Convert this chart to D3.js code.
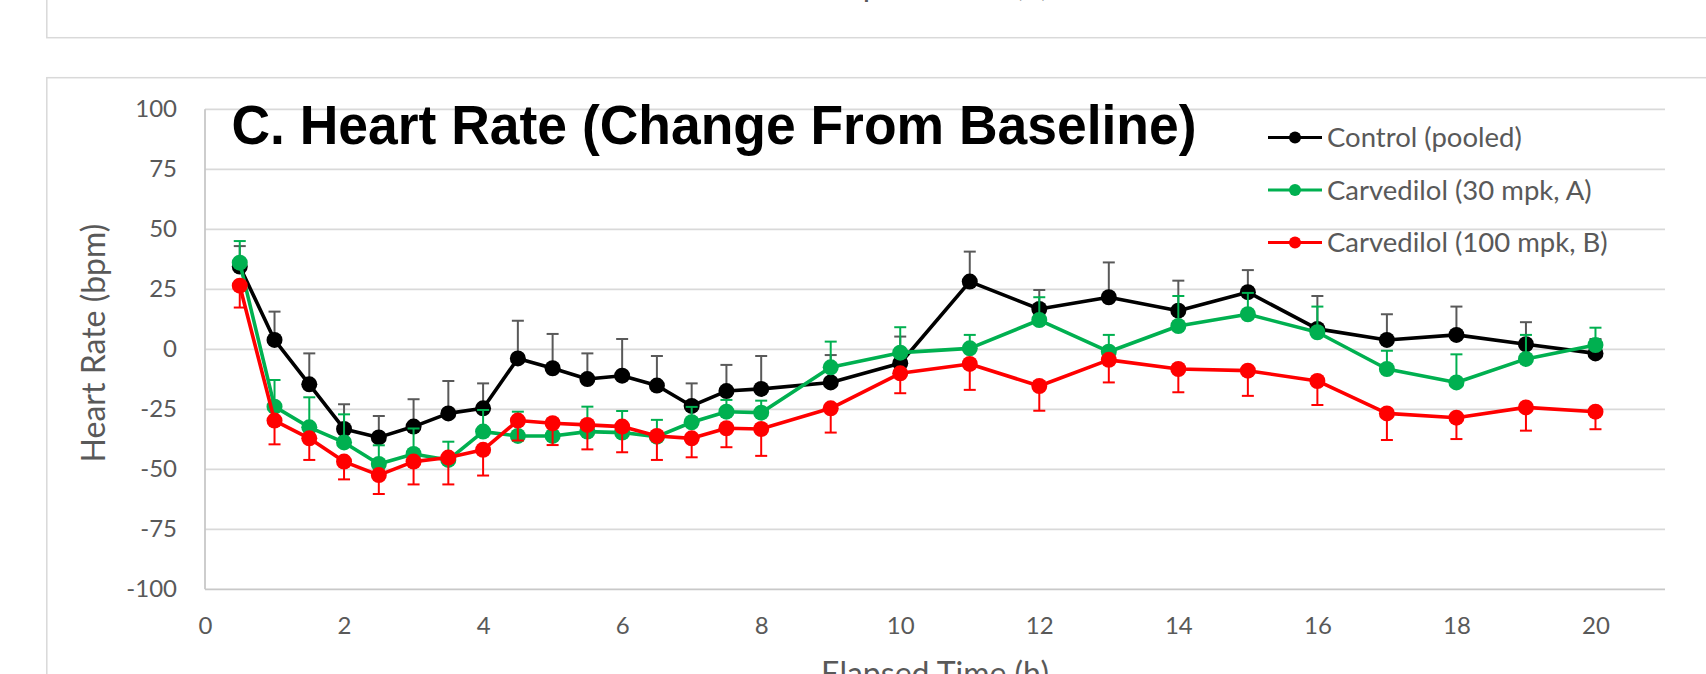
<!DOCTYPE html>
<html>
<head>
<meta charset="utf-8">
<script src="https://cdn.jsdelivr.net/npm/d3@7"></script>
<style>
  html, body { margin: 0; padding: 0; background: #fff; overflow: hidden; }
  svg { display: block; }
</style>
</head>
<body>
<svg id="chart"></svg>
<script>
// Elapsed time points (h)
const times = [0.5, 1, 1.5, 2, 2.5, 3, 3.5, 4, 4.5, 5, 5.5, 6, 6.5, 7, 7.5, 8, 9, 10, 11, 12, 13, 14, 15, 16, 17, 18, 19, 20];

// Heart rate change from baseline (bpm)
const controlHR = [34.5, 3.9, -14.6, -33.2, -36.7, -32.2, -26.7, -24.6, -3.8, -7.9, -12.4, -11.0, -15.1, -23.6, -17.4, -16.5, -13.8, -5.8, 28.2, 16.8, 21.7, 16.1, 23.8, 8.5, 3.9, 6.0, 2.1, -1.7];
const controlErr = [8.5, 11.8, 12.9, 10.3, 8.9, 11.4, 13.5, 10.4, 15.7, 14.3, 10.7, 15.3, 12.3, 9.4, 10.9, 13.7, 11.4, 11.1, 12.5, 7.9, 14.5, 12.5, 9.2, 13.7, 10.7, 11.8, 9.2, 6.0];

const carv30HR = [36.1, -23.9, -32.5, -38.8, -47.8, -43.6, -46.1, -34.3, -36.1, -36.1, -34.3, -34.7, -36.4, -30.4, -26.0, -26.4, -7.5, -1.4, 0.4, 12.2, -1.0, 9.7, 14.6, 7.1, -8.2, -13.8, -4.0, 1.8];
const carv30Err = [9.0, 11.1, 12.5, 11.7, 7.8, 10.6, 7.6, 9.0, 10.1, 7.1, 10.4, 9.0, 7.0, 6.4, 4.9, 5.0, 10.7, 10.6, 5.6, 9.5, 7.0, 12.5, 8.9, 10.7, 7.6, 11.7, 10.0, 7.2];

const carv100HR = [26.5, -29.7, -37.1, -46.8, -52.4, -46.8, -45.1, -41.9, -29.7, -30.8, -31.5, -32.2, -36.1, -37.1, -32.9, -33.2, -24.6, -10.0, -6.1, -15.3, -4.4, -8.2, -8.9, -13.2, -26.7, -28.5, -24.2, -26.0];
const carv100Err = [9.1, 9.9, 9.0, 7.4, 7.9, 9.5, 11.2, 10.7, 8.3, 9.1, 10.2, 10.7, 10.0, 7.9, 7.9, 11.2, 10.1, 8.3, 10.8, 10.3, 9.4, 9.7, 10.5, 10.0, 11.1, 8.9, 9.7, 7.3];

const seriesNames = ['Control (pooled)', 'Carvedilol (30 mpk, A)', 'Carvedilol (100 mpk, B)'];
const xTicks = [0, 2, 4, 6, 8, 10, 12, 14, 16, 18, 20];
const yTicks = [-100, -75, -50, -25, 0, 25, 50, 75, 100];

class HeartRateChart {

  constructor(_config, _data) {
    this.config = {
      parentElement: _config.parentElement,
      containerWidth: _config.containerWidth || 1706,
      containerHeight: _config.containerHeight || 674,
      margin: _config.margin || {top: 109.3, right: 41, bottom: 84.7, left: 205},
      font: '"Lato", "Open Sans", sans-serif',
      textColor: '#595959',
      gridColor: '#d9d9d9'
    };
    this.data = _data;
    this.initVis();
  }

  initVis() {
    let vis = this;

    vis.width = vis.config.containerWidth - vis.config.margin.left - vis.config.margin.right;
    vis.height = vis.config.containerHeight - vis.config.margin.top - vis.config.margin.bottom;

    vis.svg = d3.select(vis.config.parentElement)
        .attr('width', vis.config.containerWidth)
        .attr('height', vis.config.containerHeight);

    // Panel frames (upper panel is cut off by the window)
    vis.svg.append('rect')
        .attr('x', 46.8).attr('y', -20)
        .attr('width', 1700).attr('height', 57.7)
        .attr('fill', 'none').attr('stroke', vis.config.gridColor).attr('stroke-width', 1.5);
    vis.svg.append('rect')
        .attr('x', 46.8).attr('y', 77.7)
        .attr('width', 1700).attr('height', 700)
        .attr('fill', 'none').attr('stroke', vis.config.gridColor).attr('stroke-width', 1.5);

    vis.chart = vis.svg.append('g')
        .attr('transform', `translate(${vis.config.margin.left},${vis.config.margin.top})`);

    vis.xScale = d3.scaleLinear().domain([0, 21]).range([0, vis.width]);
    vis.yScale = d3.scaleLinear().domain([-100, 100]).range([vis.height, 0]);

    vis.updateVis();
  }

  updateVis() {
    let vis = this;
    vis.line = d3.line()
        .x(d => vis.xScale(d.t))
        .y(d => vis.yScale(d.v));
    vis.renderVis();
  }

  renderVis() {
    let vis = this;
    const font = vis.config.font;

    // Gridlines
    vis.chart.selectAll('.grid')
        .data(yTicks)
      .join('line')
        .attr('class', 'grid')
        .attr('x1', 0).attr('x2', vis.width)
        .attr('y1', d => vis.yScale(d)).attr('y2', d => vis.yScale(d))
        .attr('stroke', d => d === -100 ? '#c8c8c8' : vis.config.gridColor)
        .attr('stroke-width', 1.8);

    vis.chart.append('line')
        .attr('x1', 0).attr('x2', 0)
        .attr('y1', vis.yScale(-100)).attr('y2', vis.yScale(100))
        .attr('stroke', '#c8c8c8').attr('stroke-width', 1.8);

    // Axes (labels only), plain hyphen for negatives like the original
    const yAxis = d3.axisLeft(vis.yScale).tickValues(yTicks).tickSize(0).tickPadding(28).tickFormat(d => String(d));
    const xAxis = d3.axisBottom(vis.xScale).tickValues(xTicks).tickSize(0).tickPadding(28).tickFormat(d => String(d));

    const yG = vis.chart.append('g').call(yAxis);
    const xG = vis.chart.append('g').attr('transform', `translate(0,${vis.height})`).call(xAxis);
    [yG, xG].forEach(g => {
      g.select('.domain').remove();
      g.selectAll('text')
          .attr('font-family', font)
          .attr('font-size', 24)
          .attr('fill', vis.config.textColor);
    });

    // Series
    vis.data.forEach(s => {
      const g = vis.chart.append('g');
      const pts = s.values;

      g.selectAll('.err')
          .data(pts)
        .join('line')
          .attr('x1', d => vis.xScale(d.t)).attr('x2', d => vis.xScale(d.t))
          .attr('y1', d => vis.yScale(d.v))
          .attr('y2', d => vis.yScale(d.v + s.dir * d.e))
          .attr('stroke', s.errColor).attr('stroke-width', 2);
      g.selectAll('.cap')
          .data(pts)
        .join('line')
          .attr('x1', d => vis.xScale(d.t) - 6).attr('x2', d => vis.xScale(d.t) + 6)
          .attr('y1', d => vis.yScale(d.v + s.dir * d.e))
          .attr('y2', d => vis.yScale(d.v + s.dir * d.e))
          .attr('stroke', s.errColor).attr('stroke-width', 2);

      g.append('path')
          .datum(pts)
          .attr('d', vis.line)
          .attr('fill', 'none')
          .attr('stroke', s.color)
          .attr('stroke-width', 3.6)
          .attr('stroke-linejoin', 'round');

      g.selectAll('circle')
          .data(pts)
        .join('circle')
          .attr('cx', d => vis.xScale(d.t))
          .attr('cy', d => vis.yScale(d.v))
          .attr('r', 8)
          .attr('fill', s.color);
    });

    // Title
    vis.svg.append('text')
        .attr('x', 231.5).attr('y', 144)
        .attr('font-family', '"Liberation Sans", Arial, sans-serif')
        .attr('font-weight', 'bold')
        .attr('font-size', 55)
        .attr('textLength', 965)
        .attr('lengthAdjust', 'spacingAndGlyphs')
        .attr('fill', '#000')
        .text('C. Heart Rate (Change From Baseline)');

    // Axis titles
    vis.svg.append('text')
        .attr('transform', 'translate(105,343) rotate(-90)')
        .attr('text-anchor', 'middle')
        .attr('font-family', font).attr('font-size', 32)
        .attr('fill', vis.config.textColor)
        .text('Heart Rate (bpm)');

    vis.svg.append('text')
        .attr('x', vis.config.margin.left + vis.width / 2).attr('y', 685)
        .attr('text-anchor', 'middle')
        .attr('font-family', font).attr('font-size', 32)
        .attr('fill', vis.config.textColor)
        .text('Elapsed Time (h)');

    // Upper panel's axis title, mostly outside the window
    vis.svg.append('text')
        .attr('x', vis.config.margin.left + vis.width / 2).attr('y', -4)
        .attr('text-anchor', 'middle')
        .attr('font-family', font).attr('font-size', 32)
        .attr('fill', vis.config.textColor)
        .text('Elapsed Time (h)');

    vis.renderLegend();
  }

  renderLegend() {
    let vis = this;
    const legend = vis.svg.append('g').attr('transform', 'translate(1268,137.5)');
    const item = legend.selectAll('.item')
        .data(vis.data)
      .join('g')
        .attr('class', 'item')
        .attr('transform', (d, i) => `translate(0,${i * 52.5})`);
    item.append('line')
        .attr('x1', 0).attr('x2', 54)
        .attr('stroke', d => d.color).attr('stroke-width', 3);
    item.append('circle')
        .attr('cx', 27).attr('r', 6)
        .attr('fill', d => d.color);
    item.append('text')
        .attr('x', 59).attr('dy', '0.35em')
        .attr('font-family', vis.config.font)
        .attr('font-size', 27.5)
        .attr('fill', vis.config.textColor)
        .text(d => d.name);
  }
}

const zip = (vals, errs) => times.map((t, i) => ({t: t, v: vals[i], e: errs[i]}));

const data = [
  {name: seriesNames[0], color: '#000000', errColor: '#595959', dir: 1, values: zip(controlHR, controlErr)},
  {name: seriesNames[1], color: '#00b050', errColor: '#00b050', dir: 1, values: zip(carv30HR, carv30Err)},
  {name: seriesNames[2], color: '#ff0000', errColor: '#ff0000', dir: -1, values: zip(carv100HR, carv100Err)}
];

new HeartRateChart({parentElement: '#chart'}, data);
</script>
</body>
</html>
